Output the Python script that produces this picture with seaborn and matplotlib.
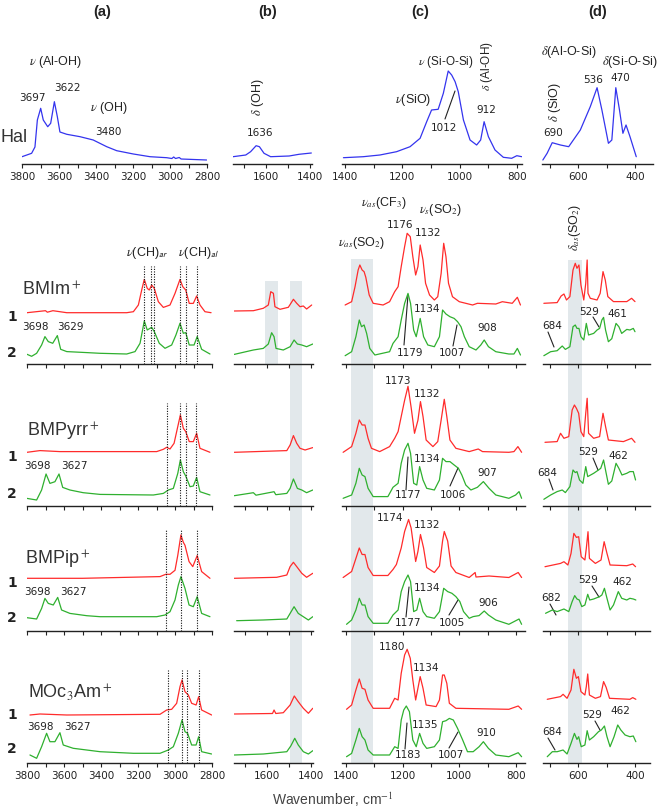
import matplotlib
matplotlib.use("Agg")
import matplotlib.pyplot as plt
from matplotlib.ticker import MultipleLocator
from matplotlib.lines import Line2D
import seaborn as sns

# ---------------- data: (wavenumber, intensity) ----------------
hal_a = [(3800,7.3),(3748,10.7),(3730,17),(3717,44),(3699,55.7),(3685,44),(3661,37.3),(3645,40.7),(3625,62.3),
         (3609,47.3),(3595,32),(3558,29.7),(3486,27.3),(3415,24),(3342,17.3),(3288,13.3),(3198,10),(3108,7.3),
         (3018,6.3),(2990,5.5),(2980,7),(2970,5.5),(2950,6.5),(2940,5),(2802,4)]
hal_b = [(1750,7.3),(1692,9),(1670,12.3),(1645,18.3),(1630,17.3),(1609,10.7),(1579,7.3),(1495,8),(1450,9.7),(1394,11)]
hal_c = [(1405,6.3),(1336,7.3),(1278,9),(1220,12.3),(1173,17.3),(1138,25.7),(1115,42.3),(1098,54),(1075,54.7),
         (1057,70.7),(1040,93),(1028,89),(1016,82.3),(1005,72.3),(987,44),(964,24),(941,19),(927,24),(915,42.3),
         (900,27.3),(877,14),(848,6.7),(819,5.7),(801,8.3),(784,7.3)]
hal_d = [(725,4),(710,10.7),(692,21.3),(663,19),(634,17.3),(593,34),(558,57.3),(534,76.3),(517,54),(494,20.7),
         (482,24),(468,76.3),(455,54),(443,30.7),(432,39),(418,27.3),(396,7.3)]

a_BMIm_1 = [(3800,0),(3700,2),(3690,0.5),(3660,2),(3585,0),(3261,0),(3225,1),(3198,7.7),(3180,22.7),(3166,33.3),
            (3150,24.3),(3139,22.7),(3126,27.7),(3112,24.3),(3090,11),(3063,5.3),(3027,7.7),(3000,19.3),(2973,33.3),
            (2958,26),(2942,22.7),(2923,9.3),(2901,9.3),(2883,16.7),(2865,7.7),(2838,1),(2805,0)]
a_BMIm_2 = [(3800,0),(3775,-2),(3748,1),(3721,9.3),(3703,17.7),(3685,12.7),(3661,11),(3636,18.7),(3618,5),(3585,2.7),
            (3477,1.7),(3405,1),(3261,0.3),(3216,2.7),(3189,11),(3166,33.3),(3150,24.3),(3126,27),(3112,22.7),(3085,11),
            (3054,6),(3018,9.3),(2995,19.3),(2973,31),(2955,21),(2942,21.7),(2923,9.3),(2897,9.3),(2880,17.7),
            (2856,5),(2811,0.3)]
a_BMPyrr_1 = [(3800,0),(3730,1.7),(3622,0.7),(3099,0.7),(3063,3),(3045,5),(3027,3.3),(3005,9),(2985,25.7),(2971,37.3),
              (2955,24),(2942,20.7),(2923,10.7),(2901,10.7),(2883,19),(2865,4),(2811,0)]
a_BMPyrr_2 = [(3800,-2.7),(3748,-4.3),(3721,5.7),(3697,21.7),(3676,12.3),(3649,14),(3627,21.7),(3607,8.3),(3568,5.7),
              (3496,3),(3405,1.3),(3117,0.7),(3063,2.3),(3036,5.7),(3009,7.3),(2985,22.3),(2971,35.7),(2955,24),
              (2942,19.7),(2919,9),(2901,9.7),(2883,18.3),(2865,4),(2811,0.7)]
a_BMPip_1 = [(3800,0),(3500,0),(3081,1.7),(3050,4),(3027,4),(3000,8),(2985,23),(2968,43.3),(2955,36),(2946,33),
             (2924,16.7),(2904,11.7),(2880,22.7),(2856,6.7),(2811,0)]
a_BMPip_2 = [(3800,-1),(3748,-2.3),(3721,8.3),(3703,18.3),(3685,13.3),(3658,11.7),(3634,19.3),(3613,6.7),(3568,3.3),
             (3477,1),(3405,0),(3099,0),(3054,1.7),(3027,5),(3000,16.7),(2982,31.7),(2968,40),(2946,28.3),(2924,11.7),
             (2901,10),(2880,20),(2856,3.3),(2811,0)]
a_MOc3Am_1 = [(3784,0),(3730,1),(3585,0),(3081,0.7),(3045,5),(3018,5.7),(2991,11.7),(2973,28.3),(2962,35),(2946,23.3),
              (2928,20),(2910,11.7),(2886,10),(2872,18.3),(2856,5),(2802,0)]
a_MOc3Am_2 = [(3784,-1),(3748,-4.3),(3721,7.3),(3694,20.7),(3676,12.3),(3649,12.3),(3622,21.3),(3604,9),(3550,5.7),
              (3405,2.3),(3225,0.7),(3081,0.7),(3036,4),(3009,7.3),(2982,20.7),(2962,34),(2946,22.3),(2932,20.7),
              (2910,9),(2886,9),(2872,17.3),(2856,2.3),(2802,0)]

b_BMIm_1 = [(1749,0),(1662,0.3),(1617,2.7),(1594,6),(1583,19.3),(1571,17.7),(1564,4.3),(1541,1.7),(1503,3.7),
            (1480,11.7),(1465,7.7),(1450,4.3),(1435,5),(1420,2),(1397,6)]
b_BMIm_2 = [(1749,-2.7),(1662,1.7),(1617,3.3),(1594,7.7),(1579,19),(1568,15),(1559,3.3),(1526,1.7),(1495,5),
            (1477,11.7),(1462,7.7),(1442,6.7),(1420,5),(1392,7.7)]
b_BMPyrr_1 = [(1749,0),(1510,1.7),(1495,7.3),(1480,16.7),(1465,9),(1450,4),(1427,2.3),(1392,4.7)]
b_BMPyrr_2 = [(1749,0),(1662,3),(1650,0.5),(1568,4),(1560,1),(1510,2.3),(1495,7.3),(1480,16.7),(1462,7.3),
              (1442,5.7),(1420,3),(1392,5.7)]
b_BMPip_1 = [(1749,0),(1556,1),(1510,3.3),(1495,11.7),(1480,16),(1465,11.7),(1442,5),(1420,1),(1392,5)]
b_BMPip_2 = [(1738,0),(1617,0.7),(1510,1.7),(1495,7.3),(1477,14),(1458,7.3),(1435,4),(1412,0.7),(1392,4)]
b_MOc3Am_1 = [(1749,0),(1575,0.5),(1568,4),(1560,0.5),(1526,1.3),(1495,9),(1476,18),(1458,12.3),(1435,5.7),
              (1412,0.7),(1392,5.7)]
b_MOc3Am_2 = [(1749,0),(1617,1),(1510,3.3),(1492,9),(1474,16.7),(1458,10),(1435,3.3),(1412,1),(1392,4.3)]

c_BMIm_1 = [(1403,0),(1380,3.3),(1368,18.3),(1357,35),(1351,40),(1343,35),(1336,33.3),(1330,27.7),(1318,10),(1304,1.7),
            (1269,0),(1246,3.3),(1228,13.3),(1216,18.3),(1205,38.3),(1193,58.3),(1184,71.7),(1173,68.3),(1164,48.3),
            (1154,30),(1146,38.3),(1138,60),(1128,45),(1119,21.7),(1105,10),(1088,5),(1076,8.3),(1064,31.7),
            (1055,61.7),(1047,48.3),(1038,21.7),(1024,8.3),(1000,3.3),(953,0),(936,1.7),(871,1),(848,3.3),(813,1.7),
            (795,7.7),(784,0)]
c_BMIm_2 = [(1403,0),(1380,4),(1365,19),(1353,35.7),(1345,29),(1336,30.7),(1327,22.3),(1316,7.3),(1298,0.7),(1246,4),
            (1234,12.3),(1216,19),(1205,35.7),(1193,52.3),(1181,62.3),(1172,52.3),(1161,25.7),(1152,19),(1138,37.3),
            (1126,19),(1111,10.7),(1088,9),(1070,19),(1059,45.7),(1047,41.7),(1033,39),(1018,37.3),(1006,34),
            (994,29),(982,19),(965,9),(941,5.7),(924,10.7),(912,15.7),(897,9),(871,4),(825,1.7),(807,1.7),(795,7.3),
            (784,0.7)]
c_BMPyrr_1 = [(1410,0),(1380,5.7),(1365,19),(1353,32.3),(1343,27.3),(1333,27.3),(1322,14),(1310,4),(1281,0.7),
              (1246,5.7),(1228,14),(1216,20.7),(1205,35.7),(1193,52),(1181,66),(1170,45),(1158,19),(1146,32),
              (1137,50.7),(1128,35.7),(1117,12.3),(1093,5.7),(1076,10.7),(1064,32.3),(1053,53),(1044,35.7),
              (1033,12.3),(1012,4),(965,0.7),(933,3.3),(918,0.7),(825,0),(807,0.7),(793,5.7),(780,0)]
c_BMPyrr_2 = [(1410,0),(1380,3.3),(1365,15),(1353,30),(1343,23.3),(1333,21.7),(1322,10),(1304,1.7),(1252,1.7),
              (1234,11),(1216,15),(1205,35),(1193,48.3),(1181,55),(1172,45),(1161,15),(1150,13.3),(1140,31.7),
              (1128,18.3),(1115,10),(1088,8.3),(1070,18.3),(1059,40),(1047,36.7),(1033,36.7),(1018,33.3),(1003,30),
              (991,23.3),(977,13.3),(959,8.3),(936,11),(915,16.7),(895,10),(871,3.3),(825,0),(801,3.3),(789,6.7),
              (780,0)]
c_BMPip_1 = [(1410,0),(1380,6),(1365,19),(1353,29.5),(1343,23),(1333,23),(1322,10),(1304,2),(1252,2),(1234,8),
             (1222,13),(1205,29.5),(1193,46),(1179,58),(1170,49.5),(1154,16),(1146,26),(1137,43),(1126,29.5),
             (1115,10),(1088,5),(1070,11.5),(1059,36.5),(1053,46),(1041,36.5),(1029,11.5),(1012,5),(965,0),(944,5),
             (941,0.5),(895,1.5),(825,0),(792,5),(780,0)]
c_BMPip_2 = [(1398,0),(1380,4.3),(1365,14.3),(1353,26),(1343,19.3),(1333,19.3),(1322,7.7),(1304,1),(1252,1),(1234,9.3),
             (1216,14.3),(1205,32.7),(1193,42.7),(1181,49.3),(1172,42.7),(1161,12.7),(1150,14.3),(1140,26),
             (1128,12.7),(1115,7.7),(1088,6),(1070,12.7),(1055,36),(1041,32.7),(1026,31),(1012,27.7),(998,22.7),
             (985,12.7),(965,6),(951,7.7),(930,8.7),(912,13.3),(897,9.3),(871,4.3),(825,0),(789,5.3),(780,0)]
c_MOc3Am_1 = [(1398,0),(1380,4.3),(1365,19.3),(1353,30.3),(1343,21),(1333,20),(1322,9.3),(1304,1),(1246,1),(1228,11),
              (1216,9.3),(1205,36),(1193,54.3),(1184,60),(1173,51),(1164,29.3),(1154,9.3),(1146,21),(1138,32.7),
              (1128,21),(1117,4.3),(1082,2.7),(1070,9.3),(1059,34.3),(1053,34.3),(1044,26),(1035,6),(1012,1),
              (825,0),(792,3.3),(780,0)]
c_MOc3Am_2 = [(1398,0),(1380,3.3),(1365,16.7),(1353,28.3),(1343,20),(1333,16.7),(1322,6.7),(1304,1.7),(1246,1.7),
              (1228,10),(1216,8.3),(1205,36.7),(1196,46.7),(1187,50.7),(1176,45),(1164,16.7),(1152,10),(1140,23.3),
              (1128,13.3),(1115,8.3),(1088,10),(1070,16.7),(1059,35),(1047,36),(1035,38.3),(1021,36.7),(1006,28.3),
              (988,16.7),(971,5),(951,5),(930,10),(915,15),(897,8.3),(871,1.7),(825,0),(792,4),(780,0)]

d_BMIm_1 = [(722,0),(675,0.7),(661,7.3),(651,9.3),(642,3.3),(630,6.7),(619,33.3),(611,40),(605,35),(598,38.3),
            (591,18.3),(581,3.3),(574,20),(569,43.3),(566,10),(558,5),(534,3.3),(523,10),(513,31.7),(505,23.3),
            (496,6.7),(476,1.7),(429,1.7),(412,5),(400,1.7)]
d_BMIm_2 = [(722,0),(698,4),(675,5),(657,9.7),(646,6.3),(630,9),(619,29),(611,30.7),(605,27.3),(598,27.3),(591,19),
            (581,15.7),(572,32.3),(564,20.7),(546,22.3),(534,25.7),(525,27.3),(517,35.7),(511,38.3),(504,25.7),
            (494,14),(482,17),(467,32.3),(457,29),(447,22.3),(429,26.3),(418,25.7),(406,27.3),(400,24)]
d_BMPyrr_1 = [(718,0),(675,0.7),(663,9),(651,4),(634,5.7),(622,32.3),(614,37.3),(607,34),(599,29),(591,10.7),
              (581,5.7),(574,29),(569,44),(564,9),(546,4),(525,5.7),(513,29),(504,15.7),(494,2.3),(441,0.7),
              (412,4),(400,0)]
d_BMPyrr_2 = [(722,0),(698,4.3),(675,7.7),(657,9.3),(646,6.7),(630,12.7),(619,29.3),(611,26.7),(605,27.7),
              (596,19.3),(584,16),(574,32.7),(567,22.7),(546,26),(529,29.3),(521,31),(511,39.3),(503,27.7),(494,15),
              (482,18.3),(467,36),(457,31),(446,24.3),(429,26),(418,27.7),(406,27.7),(398,19.3)]
d_BMPip_1 = [(718,0),(663,3.3),(651,5),(637,1.7),(626,13.3),(616,33.3),(607,29.3),(599,30),(590,10),(577,6.7),
             (572,18.3),(566,35),(561,8.3),(540,3.3),(520,6.7),(509,25),(499,13.3),(488,1.7),(429,1),(408,2.7),
             (398,0)]
d_BMPip_2 = [(716,0),(692,3.3),(675,1.7),(651,4.3),(634,1.7),(622,11.7),(613,17.7),(605,14.3),(597,13.3),(588,6.7),
             (577,8.3),(567,19),(560,13.3),(546,14.3),(525,16.7),(517,18.3),(508,25),(499,15),(488,3.3),(476,8.3),
             (459,21.7),(447,15),(429,13.3),(418,15),(406,14.3),(397,13.3)]
d_MOc3Am_1 = [(710,0),(663,2.7),(654,5),(640,1),(626,9.3),(616,30),(607,21),(600,22.7),(591,7.7),(577,4.3),
              (572,12.7),(567,25.3),(561,4.3),(540,1),(522,2.7),(511,17.7),(502,12),(490,1),(418,0),(408,1.7),
              (397,0)]
d_MOc3Am_2 = [(710,0),(692,5),(675,5),(654,6.7),(640,2.7),(626,13.3),(614,23.3),(605,17.3),(599,20),(590,10),
              (577,11.7),(569,26),(561,16.7),(546,20),(529,25),(519,26.7),(508,30.7),(499,20),(488,10),(474,20),
              (461,31.7),(450,26.7),(435,21.7),(418,20),(406,20.7),(397,15)]

# dotted marker lines (wavenumbers) in column (a)
dots_BMIm = [3168, 3130, 3112, 2973, 2942, 2880]
dots_BMPyrr = [3042, 2973, 2942, 2885]
dots_BMPip = [3049, 2968, 2880]
dots_MOc3Am = [3036, 2962, 2934, 2872]

cations = ["BMIm$^+$", "BMPyrr$^+$", "BMPip$^+$", "MOc$_3$Am$^+$"]
column_titles = ["(a)", "(b)", "(c)", "(d)"]

# ---------------- layout ----------------
W, H = 661, 810
sns.set_theme(style="white")
plt.rcParams['font.family'] = ['DejaVu Sans']
plt.rcParams['mathtext.fontset'] = 'stix'

fig = plt.figure(figsize=(W/100, H/100), dpi=100, facecolor='white')

BLUE, RED, GREEN = '#3434ee', '#ff2b2b', '#2fb02f'
BAND = '#e2e8eb'
INK = '#222222'


def px_axes(x0, x1, ytop, ybot, z=1):
    ax = fig.add_axes([x0 / W, 1 - ybot / H, (x1 - x0) / W, (ybot - ytop) / H], zorder=z)
    ax.set_facecolor('none')
    ax.set_ylim(0, ybot - ytop)
    return ax


def style(ax, xlim, labels):
    ax.set_xlim(*xlim)
    for s in ['top', 'right', 'left']:
        ax.spines[s].set_visible(False)
    ax.spines['bottom'].set_color(INK)
    ax.spines['bottom'].set_linewidth(1.0)
    ax.set_yticks([])
    ax.xaxis.set_major_locator(MultipleLocator(200))
    ax.xaxis.set_minor_locator(MultipleLocator(100))
    ax.tick_params(axis='x', which='both', bottom=True, direction='out', length=3, width=0.8,
                   colors=INK, labelsize=7.5, pad=2.5, labelbottom=labels)
    ax.set_xlabel('')
    ax.set_ylabel('')


def draw(ax, spec, offset, color, lw=0.9):
    wn = [p[0] for p in spec]
    iv = [p[1] + offset for p in spec]
    sns.lineplot(x=wn, y=iv, ax=ax, color=color, lw=lw, sort=False, estimator=None, legend=False)


def ftext(x, y, s, size=7.5, ha='center', va='center', **kw):
    fig.text(x / W, 1 - y / H, s, size=size, ha=ha, va=va, color=kw.pop('color', INK), **kw)


def fline(x1, y1, x2, y2):
    fig.add_artist(Line2D([x1 / W, x2 / W], [1 - y1 / H, 1 - y2 / H], color=INK, lw=0.8,
                          transform=fig.transFigure))


cols = {
    'a': dict(top=(22, 207, (3800, 2800)), bot=(27, 212, (3800, 2800)), hal=hal_a,
              specs=[(a_BMIm_1, a_BMIm_2), (a_BMPyrr_1, a_BMPyrr_2), (a_BMPip_1, a_BMPip_2), (a_MOc3Am_1, a_MOc3Am_2)],
              base=[(312.7, 354.3), (452.3, 495.7), (578.3, 616.7), (715, 754)]),
    'b': dict(top=(233, 312, (1750, 1391)), bot=(234, 313, (1750, 1391)), hal=hal_b,
              specs=[(b_BMIm_1, b_BMIm_2), (b_BMPyrr_1, b_BMPyrr_2), (b_BMPip_1, b_BMPip_2), (b_MOc3Am_1, b_MOc3Am_2)],
              base=[(311, 351.7), (452.3, 495.7), (578.3, 620.7), (714, 755)]),
    'c': dict(top=(342, 522, (1410, 783)), bot=(342, 525, (1414, 768)), hal=hal_c,
              specs=[(c_BMIm_1, c_BMIm_2), (c_BMPyrr_1, c_BMPyrr_2), (c_BMPip_1, c_BMPip_2), (c_MOc3Am_1, c_MOc3Am_2)],
              base=[(305, 355.7), (452.3, 498.3), (577.5, 624.3), (709.3, 756.7)]),
    'd': dict(top=(542, 653, (728, 337)), bot=(543, 650, (725, 347)), hal=hal_d,
              specs=[(d_BMIm_1, d_BMIm_2), (d_BMPyrr_1, d_BMPyrr_2), (d_BMPip_1, d_BMPip_2), (d_MOc3Am_1, d_MOc3Am_2)],
              base=[(303.3, 355.7), (442.3, 499.3), (566.7, 613.3), (699.3, 756.7)]),
}
axis_y = [364, 506, 631, 763]
group_top = [195, 370, 510, 636]
dots = [dots_BMIm, dots_BMPyrr, dots_BMPip, dots_MOc3Am]
dot_top = [266, 403, 530, 670]

# shaded bands (behind everything)
bands = {'b': [((1609, 1550), 281, 364), ((1495, 1441), 281, 763)],
         'c': [((1382, 1305), 259, 763)],
         'd': [((635, 586), 260, 763)]}
for key, blist in bands.items():
    x0, x1, xl = cols[key]['bot']
    bg = fig.add_axes([x0 / W, 1 - 763 / H, (x1 - x0) / W, (763 - 255) / H], zorder=0)
    bg.set_xlim(*xl)
    bg.set_ylim(0, 763 - 255)
    bg.axis('off')
    for (w1, w2), yt, yb in blist:
        bg.axvspan(w1, w2, ymin=(763 - yb) / (763 - 255), ymax=(763 - yt) / (763 - 255), color=BAND, lw=0)

for key, c in cols.items():
    # Hal spectrum on top
    x0, x1, xl = c['top']
    ax = px_axes(x0, x1, 20, 164, z=2)
    draw(ax, c['hal'], 0, BLUE)
    style(ax, xl, True)
    # ionic-liquid groups
    x0, x1, xl = c['bot']
    for g in range(4):
        ax = px_axes(x0, x1, group_top[g], axis_y[g], z=2)
        r_base, g_base = c['base'][g]
        red, green = c['specs'][g]
        draw(ax, red, axis_y[g] - r_base, RED)
        draw(ax, green, axis_y[g] - g_base, GREEN)
        style(ax, xl, g == 3)
        if key == 'a':
            hgt = axis_y[g] - group_top[g]
            for w in dots[g]:
                ax.axvline(w, ymin=0, ymax=(axis_y[g] - dot_top[g]) / hgt, color='#111111',
                           ls=(0, (1, 1.3)), lw=0.8)

# ---------------- texts ----------------
for t, x in zip(column_titles, [102, 268, 420, 598]):
    ftext(x, 12, t, size=10.5, weight='bold', family=['Liberation Sans', 'DejaVu Sans'])

LS = ['Liberation Sans', 'DejaVu Sans']
# Hal row
ftext(55, 62, r'$\nu$ (Al-OH)', size=9, family=LS)
ftext(32, 98, '3697'); ftext(67, 88, '3622')
ftext(109, 108, r'$\nu$ (OH)', size=9, family=LS)
ftext(108, 132, '3480')
ftext(1, 137, 'Hal', size=13, ha='left', family=LS, color='#333333')
ftext(258, 97, r'$\delta$ (OH)', size=9, rotation=90, family=LS)
ftext(260, 133, '1636')
ftext(446, 62, r'$\nu$ (Si-O-Si)', size=8.5, family=LS)
ftext(413, 100, r'$\nu$(SiO)', size=9, family=LS)
ftext(444, 128, '1012'); fline(445, 119, 455, 91)
ftext(487, 66, r'$\delta$ (Al-OH)', size=8.5, rotation=90, family=LS)
ftext(486, 110, '912')
ftext(569, 52, r'$\delta$(Al-O-Si)', size=9, family=LS)
ftext(630, 62, r'$\delta$(Si-O-Si)', size=9, family=LS)
ftext(555, 102, r'$\delta$ (SiO)', size=9, rotation=90, family=LS)
ftext(553, 133, '690'); ftext(593, 80, '536'); ftext(620, 78, '470')

# group labels
for name, y, x in zip(cations, [290, 432, 560, 693], [22, 27, 25, 28]):
    ftext(x, y, name, size=13, ha='left', family=LS, color='#333333')
for y1, y2 in [(317, 353), (457, 494), (583, 618), (715, 749)]:
    ftext(12, y1, '1', size=10, weight='bold')
    ftext(12, y2, '2', size=10, weight='bold')
for (x1, x2, y), (l1, l2) in zip([(35, 70, 327), (37, 74, 466), (37, 73, 592), (40, 77, 727)],
                                  [('3698', '3629'), ('3698', '3627'), ('3698', '3627'), ('3698', '3627')]):
    ftext(x1, y, l1); ftext(x2, y, l2)
ftext(147, 253, r'$\nu$(CH)$_\mathsf{ar}$', size=9, family=LS)
ftext(199, 253, r'$\nu$(CH)$_\mathsf{al}$', size=9, family=LS)

# column (c) labels
ftext(384, 203, r'$\nu_{as}$(CF$_3$)', size=9, family=LS)
ftext(440, 210, r'$\nu_s$(SO$_2$)', size=9, family=LS)
ftext(362, 243, r'$\nu_{as}$(SO$_2$)', size=9, family=LS)
ftext(400, 225, '1176'); ftext(428, 233, '1132'); ftext(427, 309, '1134')
ftext(410, 353, '1179'); fline(404, 345, 408, 295)
ftext(452, 353, '1007'); fline(453, 346, 457, 325)
ftext(487, 328, '908')
ftext(398, 381, '1173'); ftext(427, 394, '1132'); ftext(427, 459, '1134')
ftext(408, 495, '1177'); fline(406, 490, 408, 457)
ftext(453, 495, '1006'); fline(450, 486, 458, 468)
ftext(487, 473, '907')
ftext(390, 518, '1174'); ftext(427, 525, '1132'); ftext(427, 588, '1134')
ftext(408, 623, '1177'); fline(406, 617, 409, 587)
ftext(452, 623, '1005'); fline(449, 615, 458, 600)
ftext(488, 603, '906')
ftext(392, 647, '1180'); ftext(426, 668, '1134'); ftext(425, 725, '1135')
ftext(408, 755, '1183'); fline(405, 749, 407, 723)
ftext(451, 755, '1007'); fline(449, 748, 458, 732)
ftext(486, 733, '910')

# column (d) labels
ftext(575, 228, r'$\delta_{as}$(SO$_2$)', size=9, rotation=90, family=LS)
ftext(552, 326, '684'); fline(548, 332, 554, 347)
ftext(589, 312, '529'); fline(593, 317, 599, 327)
ftext(617, 314, '461')
ftext(547, 473, '684'); fline(549, 479, 553, 490)
ftext(588, 452, '529'); fline(593, 458, 598, 470)
ftext(618, 456, '462')
ftext(551, 598, '682'); fline(550, 604, 556, 615)
ftext(588, 580, '529'); fline(592, 586, 599, 597)
ftext(622, 582, '462')
ftext(552, 732, '684'); fline(548, 738, 555, 750)
ftext(592, 715, '529'); fline(595, 721, 600, 730)
ftext(620, 711, '462')

ftext(333, 800, 'Wavenumber, cm$^{-1}$', size=10, family=LS, color='#444444')

fig.savefig('out.png', dpi=100, facecolor='white')
